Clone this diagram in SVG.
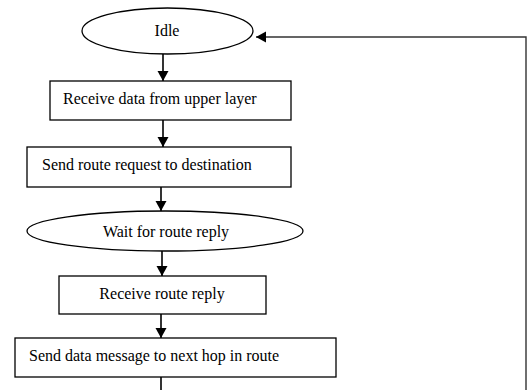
<svg xmlns="http://www.w3.org/2000/svg" width="528" height="390" viewBox="0 0 528 390">
<defs>
<marker id="ah" markerWidth="12" markerHeight="12" refX="10" refY="5.5" orient="auto" markerUnits="userSpaceOnUse">
<path d="M0,0 L10,5.5 L0,11 Z" fill="#000"/>
</marker>
<style>
.shape{fill:#fff;stroke:#000;stroke-width:1.3}
.lbl{font-family:"Liberation Serif","Times New Roman",serif;font-size:16px;fill:#000}
.c{text-anchor:middle}
.conn{stroke:#000;stroke-width:1.6;fill:none}
.back{stroke:#333;stroke-width:1.4;fill:none}
</style>
</defs>
<rect width="528" height="390" fill="#fff"/>
<g id="connectors">
<line class="conn" x1="163" y1="54" x2="163" y2="81" marker-end="url(#ah)"/>
<line class="conn" x1="163" y1="120" x2="163" y2="147" marker-end="url(#ah)"/>
<line class="conn" x1="161" y1="187" x2="161" y2="211" marker-end="url(#ah)"/>
<line class="conn" x1="162" y1="251" x2="162" y2="276" marker-end="url(#ah)"/>
<line class="conn" x1="161" y1="312" x2="161" y2="338" marker-end="url(#ah)"/>
<line class="conn" x1="161" y1="374" x2="161" y2="390"/>
<polyline class="back" points="526,390 526,37 256,37" marker-end="url(#ah)"/>
</g>
<g id="idle">
<ellipse class="shape" cx="167.5" cy="31" rx="85.5" ry="23"/>
<text class="lbl c" x="167" y="36">Idle</text>
</g>
<g id="receive-data">
<rect class="shape" x="50" y="81" width="241" height="39"/>
<text class="lbl" x="63" y="104">Receive data from upper layer</text>
</g>
<g id="send-request">
<rect class="shape" x="27" y="147" width="264" height="40"/>
<text class="lbl" x="42" y="170">Send route request to destination</text>
</g>
<g id="wait-reply">
<ellipse class="shape" cx="165" cy="231" rx="138" ry="20"/>
<text class="lbl c" x="166" y="237">Wait for route reply</text>
</g>
<g id="receive-reply">
<rect class="shape" x="59" y="276" width="207" height="38"/>
<text class="lbl c" x="162" y="299">Receive route reply</text>
</g>
<g id="send-data">
<rect class="shape" x="15" y="338" width="321" height="39"/>
<text class="lbl" x="29" y="361">Send data message to next hop in route</text>
</g>
</svg>
